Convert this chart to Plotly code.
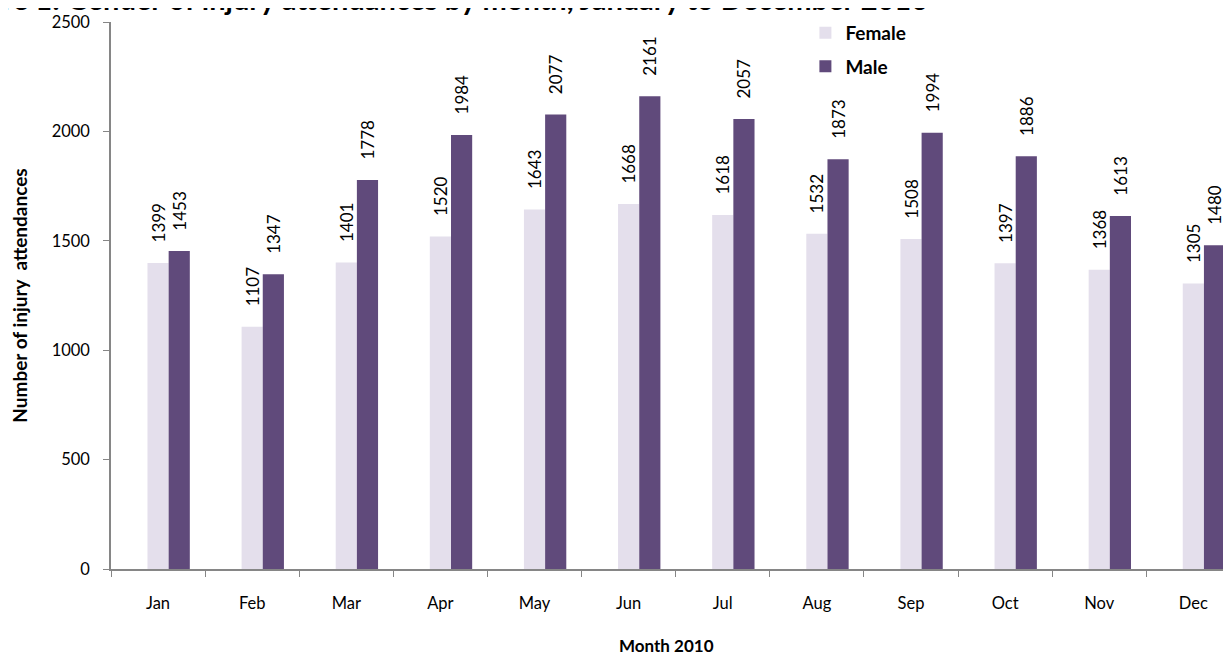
import plotly.graph_objects as go

months = ["Jan", "Feb", "Mar", "Apr", "May", "Jun", "Jul", "Aug", "Sep", "Oct", "Nov", "Dec"]
female = [1399, 1107, 1401, 1520, 1643, 1668, 1618, 1532, 1508, 1397, 1368, 1305]
male = [1453, 1347, 1778, 1984, 2077, 2161, 2057, 1873, 1994, 1886, 1613, 1480]
y_ticks = [0, 500, 1000, 1500, 2000, 2500]

FONT = "Lato"
NB = "\u00a0"
bw = 0.225
pad = NB * 4

def lab(vals):
    return [pad + str(v) for v in vals]

fig = go.Figure()
fig.add_trace(go.Bar(
    x=months, y=female, name="Female", width=bw, offset=-bw / 2,
    marker=dict(color="#E4DFEC", line=dict(width=0)),
    text=lab(female), textposition="outside", textangle=-90,
    textfont=dict(family=FONT, size=17, color="black"),
    cliponaxis=False, constraintext="none", legendgroup="f",
))
fig.add_trace(go.Bar(
    x=months, y=male, name="Male", width=bw, offset=bw / 2,
    marker=dict(color="#604A7B", line=dict(width=0)),
    text=lab(male), textposition="outside", textangle=-90,
    textfont=dict(family=FONT, size=17, color="black"),
    cliponaxis=False, constraintext="none", legendgroup="m",
))

fig.update_layout(
    width=1223, height=649,
    margin=dict(l=103, r=0, t=14, b=88),
    paper_bgcolor="white", plot_bgcolor="white",
    barmode="overlay",
    font=dict(family=FONT, size=16.5, color="black"),
    showlegend=True,
    legend=dict(x=0.62, y=1.015, xanchor="left", yanchor="top",
                font=dict(family=FONT, size=19, weight="bold"),
                traceorder="grouped", tracegroupgap=6,
                bgcolor="rgba(0,0,0,0)"),
    xaxis=dict(
        type="category", range=[-0.5, 11.4],
        showline=True, linecolor="#868686", linewidth=1.5,
        ticks="outside", tickson="boundaries", ticklen=6, tickcolor="#868686",
        ticklabelstandoff=18,
        showgrid=False,
        tickfont=dict(family=FONT, size=16.5),
    ),
    yaxis=dict(
        range=[0, 2500], tickvals=y_ticks,
        showline=True, linecolor="#868686", linewidth=1.5,
        ticks="outside", ticklen=6, tickcolor="#868686",
        ticklabelstandoff=10,
        showgrid=False, zeroline=False,
        tickfont=dict(family=FONT, size=16.5),
        title=dict(text="Number of injury" + NB + " attendances",
                   font=dict(family=FONT, size=19, weight="bold"), standoff=20),
    ),
    annotations=[
        dict(
            text="<b>Figure 1: Gender of injury attendances by month, January to December 2010</b>",
            xref="paper", yref="paper", x=0.731, y=1, xanchor="right", yanchor="bottom",
            yshift=4, showarrow=False, font=dict(family=FONT, size=29, color="black"),
        ),
        dict(
            text="<b>Month 2010</b>",
            xref="paper", yref="paper", x=0.496, y=0, xanchor="center", yanchor="middle",
            yshift=-76, showarrow=False, font=dict(family=FONT, size=17, color="black"),
        ),
    ],
)

fig.write_html("out.html")
